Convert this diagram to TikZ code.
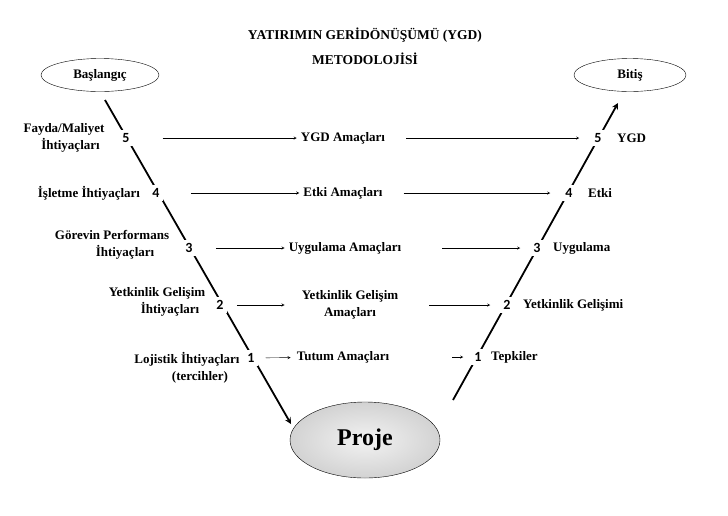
\documentclass[tikz,border=0pt]{standalone}
\usepackage{fontspec}
\setmainfont{Liberation Serif}
\newfontfamily\numfont{Carlito}
\usetikzlibrary{shapes.geometric}
\begin{document}
\begin{tikzpicture}[x=1pt,y=-1pt,
    lbl/.style={font=\bfseries\fontsize{13}{17}\selectfont,align=center,inner sep=1pt},
    num/.style={font=\numfont\bfseries\fontsize{14}{16}\selectfont,fill=white,inner sep=3pt},
    arr/.style={->,>=stealth,thin}]
    \useasboundingbox (0,0) rectangle (728,515);
    % les deux branches du V
    \coordinate (haut1) at (105,100);
    \coordinate (bas1) at (291,424);
    \coordinate (haut2) at (618,103);
    \coordinate (bas2) at (453,400);
    \draw[line width=1.8pt,-stealth] (haut1) -- (bas1);
    \draw[line width=1.8pt,-stealth] (bas2) -- (haut2);

    % titre
    \node[lbl,font=\bfseries\fontsize{13.5}{25}\selectfont] (titre) at (365,46) {YATIRIMIN GERİDÖNÜŞÜMÜ (YGD)\\METODOLOJİSİ};
    \node[ellipse,draw,fill=white,minimum width=118,minimum height=33,lbl] (debut) at (100,75) {Başlangıç};
    \node[ellipse,draw,fill=white,minimum width=112,minimum height=33,lbl] (fin) at (630,75) {Bitiş};
    \node[ellipse,draw,inner color=gray!10,outer color=gray!35,minimum width=150,minimum height=76,
          font=\bfseries\fontsize{24}{26}\selectfont] (proje) at (365,440) {Proje};

    % besoins a gauche
    \node[lbl] (b5) at (64,138) {Fayda/Maliyet\\ \quad İhtiyaçları};
    \node[lbl] (b4) at (89,193) {İşletme İhtiyaçları};
    \node[lbl] (b3) at (112,245) {Görevin Performans\\ \qquad İhtiyaçları};
    \node[lbl] (b2) at (157,302) {Yetkinlik Gelişim\\ \qquad İhtiyaçları};
    \node[lbl] (b1) at (187,368) {Lojistik İhtiyaçları\\ \qquad(tercihler)};
    \node[num] (l5) at (126,138) {5};
    \node[num] (l4) at (156,193) {4};
    \node[num] (l3) at (189,248) {3};
    \node[num] (l2) at (220,305) {2};
    \node[num] (l1) at (251,358) {1};

    % amaclar au milieu
    \node[lbl] (m5) at (343,138) {YGD Amaçları};
    \node[lbl] (m4) at (343,193) {Etki Amaçları};
    \node[lbl] (m3) at (345,248) {Uygulama Amaçları};
    \node[lbl] (m2) at (350,305) {Yetkinlik Gelişim\\Amaçları};
    \node[lbl] (m1) at (343,357) {Tutum Amaçları};

    % resultats a droite
    \node[num] (r5) at (598,138) {5};
    \node[num] (r4) at (569,193) {4};
    \node[num] (r3) at (537,248) {3};
    \node[num] (r2) at (507,305) {2};
    \node[num] (r1) at (478,357) {1};
    \node[lbl,anchor=west] (s5) at (616,138) {YGD};
    \node[lbl,anchor=west] (s4) at (587,193) {Etki};
    \node[lbl,anchor=west] (s3) at (552,248) {Uygulama};
    \node[lbl,anchor=west] (s2) at (522,305) {Yetkinlik Gelişimi};
    \node[lbl,anchor=west] (s1) at (490,357) {Tepkiler};

    % fleches
    \draw[arr,shorten <=30pt,shorten >=3pt] (l5) -- (m5);
    \draw[arr,shorten <=28pt,shorten >=3pt] (l4) -- (m4);
    \draw[arr,shorten <=20pt,shorten >=3pt] (l3) -- (m3);
    \draw[arr,shorten <=10pt,shorten >=16pt] (l2) -- (m2);
    \draw[arr,shorten <=8pt,shorten >=5pt] (l1) -- (m1);
    \draw[arr,shorten <=20pt,shorten >=12pt] (m5) -- (r5);
    \draw[arr,shorten <=20pt,shorten >=12pt] (m4) -- (r4);
    \draw[arr,shorten <=40pt,shorten >=10pt] (m3) -- (r3);
    \draw[arr,shorten <=30pt,shorten >=10pt] (m2) -- (r2);
    \draw[arr,shorten <=62pt,shorten >=8pt] (m1) -- (r1);
\end{tikzpicture}
\end{document}
